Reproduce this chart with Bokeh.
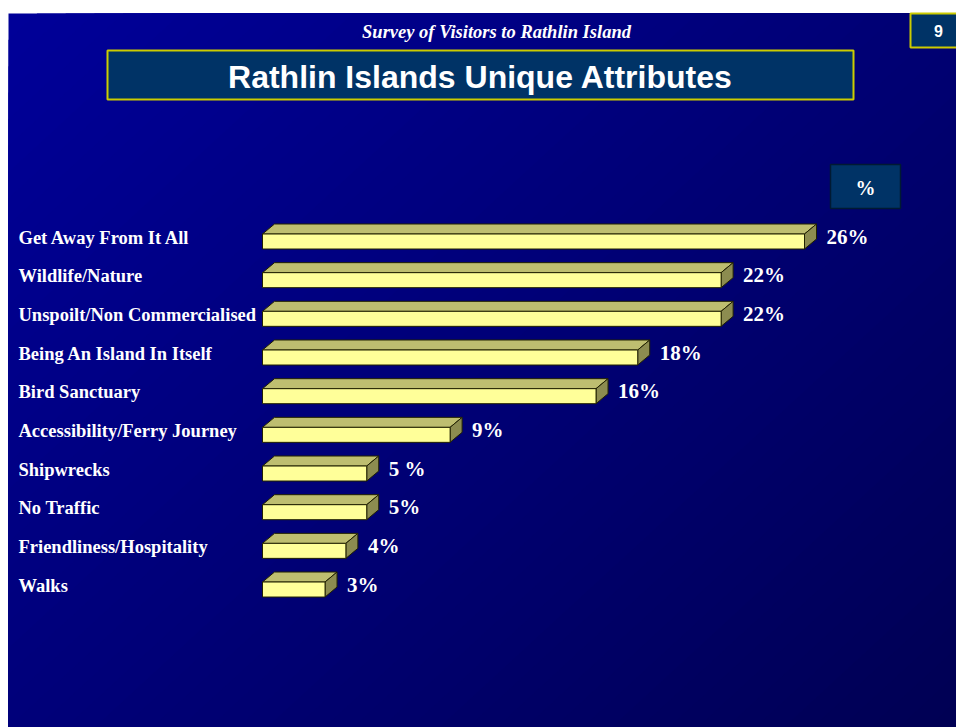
import numpy as np
from bokeh.plotting import figure
from bokeh.models import Range1d, ColumnDataSource, LabelSet
from bokeh.core.properties import value
from bokeh.embed import file_html
from bokeh.resources import INLINE

# ---- data ----
categories = ["Get Away From It All", "Wildlife/Nature", "Unspoilt/Non Commercialised",
              "Being An Island In Itself", "Bird Sanctuary", "Accessibility/Ferry Journey",
              "Shipwrecks", "No Traffic", "Friendliness/Hospitality", "Walks"]
values = [26, 22, 22, 18, 16, 9, 5, 5, 4, 3]
value_labels = ["26%", "22%", "22%", "18%", "16%", "9%", "5 %", "5%", "4%", "3%"]
subtitle = "Survey of Visitors to Rathlin Island"
title = "Rathlin Islands Unique Attributes"
page_no = "9"
unit_label = "%"

W, H = 956, 727
# data ranges: value 0 at px 262, 26 at px 804; category i centre at px 241 + 38.67*i
kx = 542.0 / 26.0
ky = 38.67
x0 = -262.0 / kx
x1 = (W - 262.0) / kx
y_top = -241.0 / ky
y_bot = (H - 241.0) / ky

p = figure(width=W, height=H, output_backend="svg", toolbar_location=None,
           x_range=Range1d(x0, x1), y_range=Range1d(y_bot, y_top),
           min_border=0, outline_line_color=None)
p.axis.visible = False
p.grid.visible = False
p.background_fill_color = "white"
p.border_fill_color = "white"
p.extra_x_ranges = {"px": Range1d(0, W)}
p.extra_y_ranges = {"px": Range1d(H, 0)}

# ---- background: diagonal gradient panel (px 8..956, 13..727) as nested polygons ----
PX0, PX1, PY0, PY1 = 8.0, float(W), 13.0, float(H)


def clip_halfplane(poly, a, b, c):
    """keep part of polygon where a*x + b*y >= c"""
    out = []
    n = len(poly)
    for k in range(n):
        P = poly[k]
        Q = poly[(k + 1) % n]
        fp = a * P[0] + b * P[1] - c
        fq = a * Q[0] + b * Q[1] - c
        if fp >= 0:
            out.append(P)
        if (fp >= 0) != (fq >= 0):
            s = fp / (fp - fq)
            out.append((P[0] + s * (Q[0] - P[0]), P[1] + s * (Q[1] - P[1])))
    return out


rect = [(PX0, PY0), (PX1, PY0), (PX1, PY1), (PX0, PY1)]
a_ = 0.55 / (PX1 - PX0)
b_ = 0.45 / (PY1 - PY0)
c0 = a_ * PX0 + b_ * PY0
nlev = 60
gxs, gys, gcs = [], [], []
for k in range(nlev):
    tk = k / nlev
    poly = rect if k == 0 else clip_halfplane(rect, a_, b_, c0 + tk)
    if len(poly) < 3:
        continue
    tm = (k + 0.5) / nlev
    bl = int(round(153 - 70 * tm))
    gxs.append([q[0] for q in poly])
    gys.append([q[1] for q in poly])
    gcs.append("#0000%02x" % bl)
p.patches(xs=gxs, ys=gys, fill_color=gcs, line_color=None,
          x_range_name="px", y_range_name="px")

# page number box
p.quad(left=[910], right=[957], top=[13], bottom=[47], fill_color="#003366",
       line_color="#CCCC00", line_width=2, x_range_name="px", y_range_name="px")
p.text(x=[938], y=[30], text=[page_no], text_color="white", text_font=value("Liberation Sans"),
       text_font_style="bold", text_font_size="16px", text_align="center",
       text_baseline="middle", x_range_name="px", y_range_name="px")

# subtitle
p.text(x=[496], y=[31], text=[subtitle], text_color="white", text_font=value("Liberation Serif"),
       text_font_style="bold italic", text_font_size="18.5px", text_align="center",
       text_baseline="middle", x_range_name="px", y_range_name="px")

# title box
p.quad(left=[107], right=[853], top=[50], bottom=[99], fill_color="#003366",
       line_color="#CCCC00", line_width=2, x_range_name="px", y_range_name="px")
p.text(x=[480], y=[76], text=[title], text_color="white", text_font=value("Liberation Sans"),
       text_font_style="bold", text_font_size="32px", text_align="center",
       text_baseline="middle", x_range_name="px", y_range_name="px")

# % box
p.quad(left=[830], right=[900], top=[164], bottom=[208], fill_color="#003366",
       line_color="#001a33", line_width=1.5, x_range_name="px", y_range_name="px")
p.text(x=[865], y=[187], text=[unit_label], text_color="white", text_font=value("Liberation Serif"),
       text_font_style="bold", text_font_size="20px", text_align="center",
       text_baseline="middle", x_range_name="px", y_range_name="px")

# ---- 3D bars ----
idx = np.arange(len(values))
hh = 15.0 / ky / 2.0      # half face height in category units
dx = 12.0 / kx            # depth in value units
dy = 10.0 / ky            # depth in category units (upwards = smaller)
vals = np.array(values, dtype=float)

src = ColumnDataSource(dict(y=idx, v=vals, cat=categories, lab=value_labels))

top_xs, top_ys, side_xs, side_ys = [], [], [], []
for i, v in zip(idx, vals):
    ft = i - hh
    fb = i + hh
    top_xs.append([0, v, v + dx, dx])
    top_ys.append([ft, ft, ft - dy, ft - dy])
    side_xs.append([v, v + dx, v + dx, v])
    side_ys.append([ft, ft - dy, fb - dy, fb])

p.patches(xs=top_xs, ys=top_ys, fill_color="#BEBE70", line_color="#222200", line_width=1)
p.patches(xs=side_xs, ys=side_ys, fill_color="#8C8C50", line_color="#222200", line_width=1)
p.hbar(y="y", left=0, right="v", height=2 * hh, source=src, fill_color="#FFFF99",
       line_color="#222200", line_width=1)

# value labels
p.add_layout(LabelSet(x="v", y="y", text="lab", source=src, x_offset=22, y_offset=5,
                      text_color="white", text_font=value("Liberation Serif"),
                      text_font_style="bold", text_font_size="21px",
                      text_baseline="middle", text_align="left"))

# category labels
p.add_layout(LabelSet(x=18, x_units="screen", y="y", text="cat", source=src, y_offset=4,
                      text_color="white", text_font=value("Liberation Serif"),
                      text_font_style="bold", text_font_size="18.5px",
                      text_baseline="middle", text_align="left"))

open("out.html", "w").write(file_html(p, INLINE))
